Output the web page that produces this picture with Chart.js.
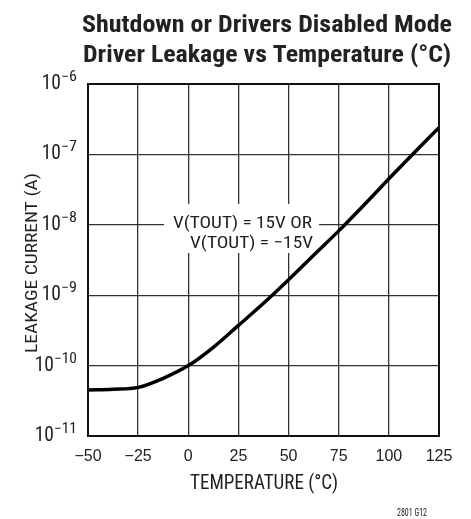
<!DOCTYPE html>
<html>
<head>
<meta charset="utf-8">
<script src="https://cdn.jsdelivr.net/npm/chart.js@4.4.1/dist/chart.umd.min.js"></script>
<style>
  html, body { margin: 0; padding: 0; background: #fff; }
  canvas { display: block; }
</style>
</head>
<body>
<canvas id="chart" width="471" height="519"></canvas>
<script>
// temperature (°C) and leakage current (A)
const temperatures = [-50, -37.5, -25, -12.5, 0, 12.5, 25, 37.5, 50, 62.5, 75, 87.5, 100, 112.5, 125];
const leakage = [4.5e-11, 4.6e-11, 4.9e-11, 6.6e-11, 1.0e-10, 1.82e-10, 3.72e-10, 7.67e-10, 1.66e-9, 3.7e-9, 8.2e-9, 1.9e-8, 4.5e-8, 1.05e-7, 2.4e-7];

const xTicks = [-50, -25, 0, 25, 50, 75, 100, 125];
const yExponents = [-11, -10, -9, -8, -7, -6];
const titleLines = ['Shutdown or Drivers Disabled Mode', 'Driver Leakage vs Temperature (°C)'];
const noteLines = ['V(TOUT) = 15V OR', 'V(TOUT) = \u221215V'];

const NARROW = "'Liberation Sans Narrow', 'Roboto Condensed', 'DejaVu Sans Condensed', sans-serif";
const minus = (n) => String(n).replace('-', '\u2212');

// draw text squeezed or stretched to a given width
const fitText = (ctx, text, x, y, font, width, align) => {
  ctx.save();
  ctx.font = font;
  const w = ctx.measureText(text).width;
  const k = width / w;
  let x0 = x;
  if (align === 'center') x0 = x - width / 2;
  if (align === 'right') x0 = x - width;
  ctx.translate(x0, y);
  ctx.scale(k, 1);
  ctx.textAlign = 'left';
  ctx.textBaseline = 'alphabetic';
  ctx.fillText(text, 0, 0);
  ctx.restore();
};

// white patch behind the note, then the labels and frame
const textPlugin = {
  id: 'textPlugin',
  beforeDatasetsDraw(chart) {
    const ctx = chart.ctx;
    ctx.save();
    ctx.fillStyle = '#fff';
    ctx.fillRect(164, 204, 155, 49);
    ctx.restore();
  },
  afterDraw(chart) {
    const ctx = chart.ctx;
    const { left, right, top, bottom } = chart.chartArea;
    const xs = chart.scales.x;
    const ys = chart.scales.y;
    ctx.save();

    // frame
    ctx.strokeStyle = '#111';
    ctx.lineWidth = 2;
    ctx.strokeRect(left, top, right - left, bottom - top);

    ctx.fillStyle = '#222';

    // title
    fitText(ctx, titleLines[0], 267, 32, 'bold 23.5px ' + NARROW, 370, 'center');
    fitText(ctx, titleLines[1], 267, 62, 'bold 23.5px ' + NARROW, 368, 'center');

    // x tick labels
    ctx.font = "16px 'Liberation Sans', Arial, sans-serif";
    ctx.textAlign = 'center';
    ctx.textBaseline = 'alphabetic';
    xTicks.forEach(t => {
      ctx.fillText(minus(t), xs.getPixelForValue(t), 461);
    });

    // y tick labels: 10 with superscript exponent
    yExponents.forEach(e => {
      const y = ys.getPixelForValue(Math.pow(10, e));
      const sup = minus(e);
      const supW = sup.length > 2 ? 23 : 16;
      fitText(ctx, sup, 77, y - 3, '14px ' + NARROW, supW, 'right');
      ctx.font = '19.5px ' + NARROW;
      ctx.textAlign = 'right';
      ctx.fillText('10', 77 - supW, y + 5);
    });

    // axis titles
    fitText(ctx, 'TEMPERATURE (°C)', 264, 489, '19.5px ' + NARROW, 148, 'center');
    ctx.save();
    ctx.translate(36.5, 263);
    ctx.rotate(-Math.PI / 2);
    fitText(ctx, 'LEAKAGE CURRENT (A)', 0, 0, '16px ' + NARROW, 180, 'center');
    ctx.restore();

    // curve note
    fitText(ctx, noteLines[0], 312, 227.5, '17px ' + NARROW, 139, 'right');
    fitText(ctx, noteLines[1], 313, 247.5, '17px ' + NARROW, 123, 'right');

    // figure id
    fitText(ctx, '2801 G12', 412, 515.5, '10.5px ' + NARROW, 30, 'center');

    ctx.restore();
  }
};

new Chart(document.getElementById('chart'), {
  type: 'line',
  data: {
    datasets: [{
      data: temperatures.map((t, i) => ({ x: t, y: leakage[i] })),
      borderColor: '#000',
      borderWidth: 3.5,
      pointRadius: 0,
      cubicInterpolationMode: 'monotone',
      fill: false
    }]
  },
  options: {
    responsive: false,
    animation: false,
    layout: { padding: { left: 88, right: 32, top: 84, bottom: 83 } },
    plugins: { legend: { display: false }, tooltip: { enabled: false } },
    scales: {
      x: {
        type: 'linear',
        min: -50,
        max: 125,
        afterBuildTicks: (scale) => { scale.ticks = xTicks.map(v => ({ value: v })); },
        ticks: { display: false },
        grid: { color: '#333', lineWidth: 1.3, drawTicks: false },
        border: { display: false }
      },
      y: {
        type: 'logarithmic',
        min: 1e-11,
        max: 1e-6,
        afterBuildTicks: (scale) => { scale.ticks = yExponents.map(e => ({ value: Math.pow(10, e) })); },
        ticks: { display: false },
        grid: { color: '#333', lineWidth: 1.3, drawTicks: false },
        border: { display: false }
      }
    }
  },
  plugins: [textPlugin]
});
</script>
</body>
</html>
